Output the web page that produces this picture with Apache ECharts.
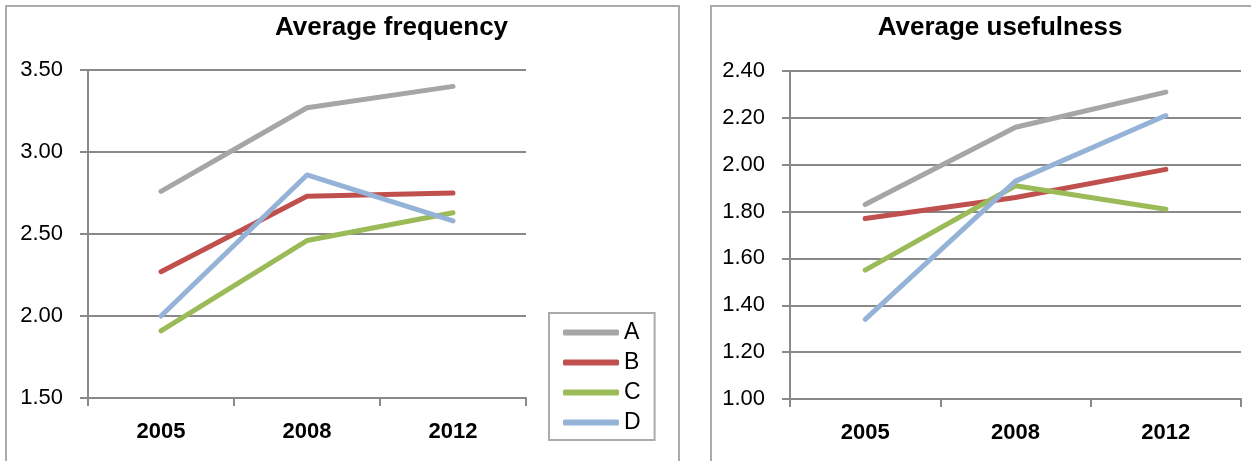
<!DOCTYPE html>
<html>
<head>
<meta charset="utf-8">
<script src="https://cdn.jsdelivr.net/npm/echarts@6/dist/echarts.min.js"></script>
<style>
  html, body { margin: 0; padding: 0; background: #fff; }
  #chart { width: 1251px; height: 461px; }
</style>
</head>
<body>
<div id="chart"></div>
<script>
// Survey years on the category axis
const years = ['2005', '2008', '2012'];
const groupNames = ['A', 'B', 'C', 'D'];
const groupColors = ['#A6A6A6', '#C0504D', '#9BBB59', '#95B3D7'];

// Average frequency per group
const freqA = [2.76, 3.27, 3.40];
const freqB = [2.27, 2.73, 2.75];
const freqC = [1.91, 2.46, 2.63];
const freqD = [2.00, 2.86, 2.58];

// Average usefulness per group
const useA = [1.83, 2.16, 2.31];
const useB = [1.77, 1.86, 1.98];
const useC = [1.55, 1.91, 1.81];
const useD = [1.34, 1.93, 2.21];

// Value axis ranges
const freqAxis = { min: 1.5, max: 3.5, step: 0.5 };
const useAxis = { min: 1.0, max: 2.4, step: 0.2 };

const freqSets = [freqA, freqB, freqC, freqD];
const useSets = [useA, useB, useC, useD];

const sans = "'Liberation Sans', Arial, sans-serif";
const gridGray = '#898989';
const frameGray = '#ABABAB';

function categoryAxis(gridIndex) {
  return {
    type: 'category', gridIndex, data: years, boundaryGap: true,
    axisLine: { show: true, lineStyle: { color: gridGray, width: 2 } },
    axisTick: { show: true, length: 8, alignWithLabel: false, lineStyle: { color: gridGray, width: 2 } },
    axisLabel: { color: '#000', fontFamily: sans, fontWeight: 'bold', fontSize: 22, lineHeight: 22, margin: 23 },
    splitLine: { show: false }
  };
}

function valueAxis(gridIndex, range) {
  return {
    type: 'value', gridIndex, min: range.min, max: range.max, interval: range.step,
    axisLine: { show: true, lineStyle: { color: gridGray, width: 2 } },
    axisTick: { show: true, length: 8, lineStyle: { color: gridGray, width: 2 } },
    axisLabel: { color: '#000', fontFamily: sans, fontSize: 22, margin: 25,
      formatter: v => v.toFixed(2) },
    splitLine: { show: true, lineStyle: { color: gridGray, width: 2 } }
  };
}

function lineSeries(sets, axisIndex) {
  return sets.map((values, i) => ({
    name: groupNames[i], type: 'line', data: values,
    xAxisIndex: axisIndex, yAxisIndex: axisIndex,
    showSymbol: false, symbol: 'none', smooth: false,
    lineStyle: { width: 5, color: groupColors[i], cap: 'round', join: 'round' },
    itemStyle: { color: groupColors[i] },
    emphasis: { disabled: true }, animation: false
  }));
}

const chart = echarts.init(document.getElementById('chart'), null, { renderer: 'canvas' });
chart.setOption({
  backgroundColor: '#fff',
  animation: false,
  color: groupColors,
  grid: [
    { left: 88, top: 70, right: 725, bottom: 63 },
    { left: 790, top: 71, right: 10, bottom: 62 }
  ],
  xAxis: [categoryAxis(0), categoryAxis(1)],
  yAxis: [valueAxis(0, freqAxis), valueAxis(1, useAxis)],
  legend: {
    data: groupNames, orient: 'vertical', left: 549, top: 313,
    icon: 'roundRect', itemWidth: 56, itemHeight: 6, itemGap: 7, itemTextGap: 3,
    padding: [8, 14, 6, 14],
    borderColor: frameGray, borderWidth: 2, backgroundColor: '#fff',
    textStyle: { color: '#000', fontFamily: sans, fontSize: 23, lineHeight: 23 },
    selectedMode: false
  },
  graphic: [
    { type: 'rect', z: -1, silent: true, shape: { x: 6, y: 6, width: 673, height: 470 },
      style: { fill: 'none', stroke: frameGray, lineWidth: 2 } },
    { type: 'rect', z: -1, silent: true, shape: { x: 711, y: 6, width: 560, height: 470 },
      style: { fill: 'none', stroke: frameGray, lineWidth: 2 } },
    { type: 'text', x: 391.5, y: 28, silent: true,
      style: { text: 'Average frequency', fill: '#000', font: "bold 26px 'Liberation Sans', Arial, sans-serif",
        align: 'center', verticalAlign: 'middle' } },
    { type: 'text', x: 1000, y: 28, silent: true,
      style: { text: 'Average usefulness', fill: '#000', font: "bold 26px 'Liberation Sans', Arial, sans-serif",
        align: 'center', verticalAlign: 'middle' } }
  ],
  series: [...lineSeries(freqSets, 0), ...lineSeries(useSets, 1)]
});
</script>
</body>
</html>
